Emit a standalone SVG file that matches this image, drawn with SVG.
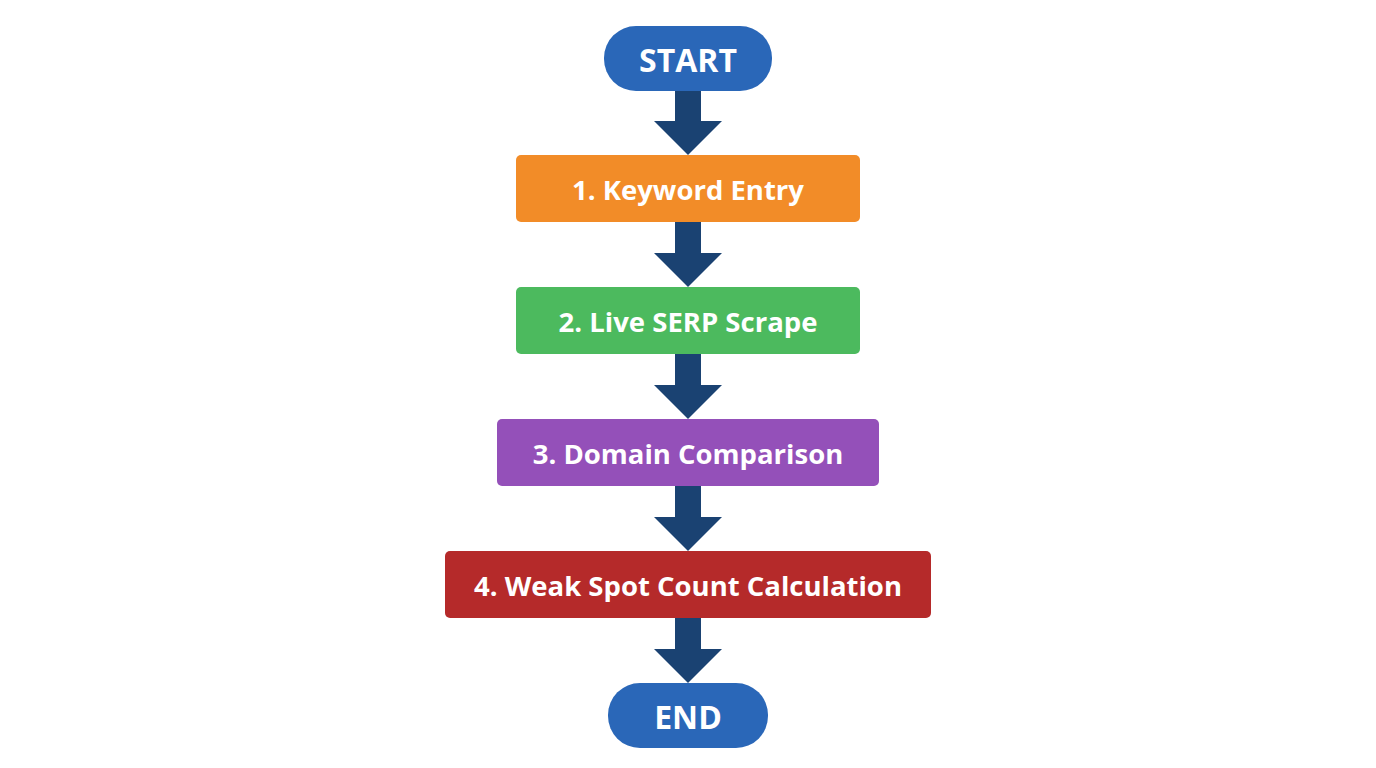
<svg xmlns="http://www.w3.org/2000/svg" width="1376" height="768" viewBox="0 0 1376 768">
<style>
.t{font-family:"Open Sans","Liberation Sans",sans-serif;font-weight:bold;fill:#fff;text-anchor:middle;dominant-baseline:central}
.s{font-size:27.5px}.b{font-size:32px}
.c{fill:#1a4272}
</style>
<rect width="1376" height="768" fill="#fff"/>
<g id="connectors">
<polygon class="c" points="675,90 701,90 701,121 722,121 688,155 654,121 675,121"/>
<polygon class="c" points="675,222 701,222 701,253 722,253 688,287 654,253 675,253"/>
<polygon class="c" points="675,354 701,354 701,385 722,385 688,419 654,385 675,385"/>
<polygon class="c" points="675,486 701,486 701,517 722,517 688,551 654,517 675,517"/>
<polygon class="c" points="675,617 701,617 701,649 722,649 688,683 654,649 675,649"/>
</g>
<g id="start"><rect x="604" y="26" width="168" height="65" rx="32" fill="#2a67b8"/><text class="t b" x="688" y="59">START</text></g>
<g id="n1"><rect x="516" y="155" width="344" height="67" rx="5" fill="#f28c28"/><text class="t s" x="688" y="189">1. Keyword Entry</text></g>
<g id="n2"><rect x="516" y="287" width="344" height="67" rx="5" fill="#4cba5e"/><text class="t s" x="688" y="321">2. Live SERP Scrape</text></g>
<g id="n3"><rect x="497" y="419" width="382" height="67" rx="5" fill="#9450b9"/><text class="t s" x="688" y="453">3. Domain Comparison</text></g>
<g id="n4"><rect x="445" y="551" width="486" height="67" rx="5" fill="#b52a2a"/><text class="t s" x="688" y="585">4. Weak Spot Count Calculation</text></g>
<g id="end"><rect x="608" y="683" width="160" height="65" rx="32" fill="#2a67b8"/><text class="t b" x="688" y="716">END</text></g>
</svg>
